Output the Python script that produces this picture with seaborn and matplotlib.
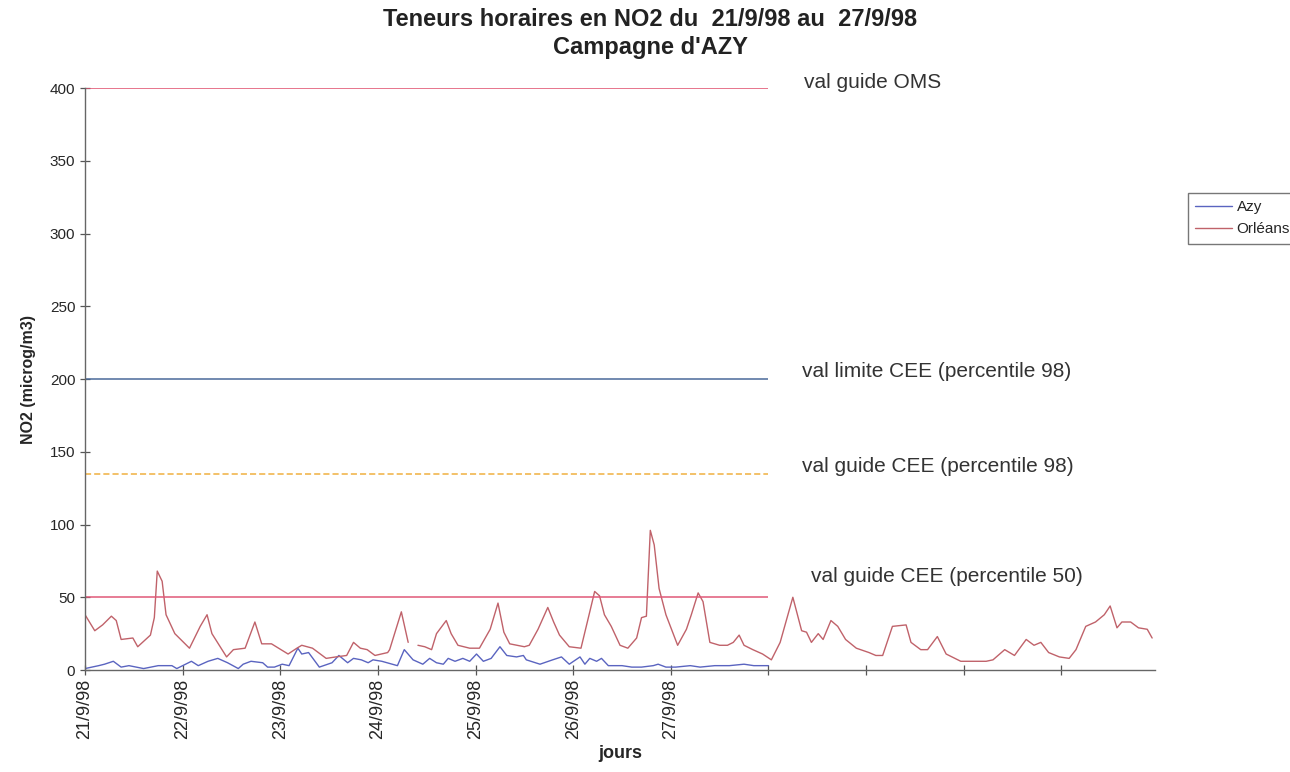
import matplotlib
matplotlib.use("Agg")
import matplotlib.pyplot as plt
import matplotlib.dates as mdates
from matplotlib.ticker import FuncFormatter
import seaborn as sns
import numpy as np
import pandas as pd

# jours depuis le 21/9/98 00h et teneurs NO2 (microg/m3)
orleans_jours = [0.00, 0.10, 0.18, 0.27, 0.32, 0.37, 0.49, 0.54, 0.67, 0.71, 0.74, 0.79, 0.83, 0.92,
                 1.07, 1.18, 1.25, 1.30, 1.45, 1.52, 1.64, 1.74, 1.81, 1.91,
                 2.08, 2.17, 2.22, 2.33, 2.47, 2.57, 2.68, 2.75, 2.82, 2.89, 2.97,
                 3.10, 3.12, 3.24, 3.31, 3.36, 3.41, 3.48, 3.55, 3.60, 3.70, 3.75, 3.82, 3.94,
                 4.04, 4.15, 4.23, 4.29, 4.35, 4.50, 4.55, 4.64, 4.74, 4.80, 4.86, 4.96,
                 5.08, 5.17, 5.22, 5.27, 5.32, 5.39, 5.48, 5.56, 5.65, 5.70, 5.75, 5.79, 5.83, 5.88, 5.95,
                 6.07, 6.16, 6.21, 6.28, 6.33, 6.40, 6.50, 6.58, 6.64, 6.70, 6.75, 6.84, 6.94,
                 7.03, 7.12, 7.25, 7.34, 7.39, 7.44, 7.51, 7.56, 7.64, 7.71, 7.79, 7.90,
                 8.03, 8.10, 8.17, 8.27, 8.41, 8.46, 8.56, 8.63, 8.73, 8.82, 8.97,
                 9.10, 9.23, 9.30, 9.42, 9.52, 9.64, 9.72, 9.79, 9.87, 9.98,
                 10.08, 10.15, 10.25, 10.35, 10.44, 10.50, 10.57, 10.62, 10.71, 10.79, 10.88, 10.93]
orleans_no2 = [38, 27, 31, 37, 34, 21, 22, 16, 24, 36, 68, 61, 38, 25,
               15, 30, 38, 25, 9, 14, 15, 33, 18, 18,
               11, 15, 17, 15, 8, 9, 10, 19, 15, 14, 10,
               12, 14, 40, 19, np.nan, 17, 16, 14, 25, 34, 25, 17, 15,
               15, 28, 46, 26, 18, 16, 17, 28, 43, 33, 24, 16,
               15, 40, 54, 51, 38, 30, 17, 15, 22, 36, 37, 96, 86, 56, 38,
               17, 28, 38, 53, 47, 19, 17, 17, 19, 24, 17, 14, 11,
               7, 19, 50, 27, 26, 19, 25, 21, 34, 30, 21, 15,
               12, 10, 10, 30, 31, 19, 14, 14, 23, 11, 6,
               6, 6, 7, 14, 10, 21, 17, 19, 12, 9,
               8, 14, 30, 33, 38, 44, 29, 33, 33, 29, 28, 22]

azy_jours = [0.00, 0.14, 0.20, 0.29, 0.37, 0.45, 0.60, 0.75, 0.89, 0.94,
             1.09, 1.16, 1.26, 1.36, 1.46, 1.57, 1.62, 1.70, 1.82, 1.87, 1.94,
             2.02, 2.09, 2.18, 2.22, 2.29, 2.40, 2.53, 2.60, 2.69, 2.75, 2.83, 2.90, 2.95,
             3.04, 3.20, 3.27, 3.36, 3.46, 3.53, 3.60, 3.67, 3.72, 3.79, 3.87, 3.94,
             4.01, 4.08, 4.16, 4.25, 4.32, 4.42, 4.49, 4.52, 4.66, 4.79, 4.88, 4.96,
             5.07, 5.12, 5.17, 5.24, 5.29, 5.36, 5.50, 5.60, 5.70, 5.82, 5.87, 5.95,
             6.05, 6.20, 6.30, 6.45, 6.60, 6.75, 6.85, 7.00]
azy_no2 = [1, 3, 4, 6, 2, 3, 1, 3, 3, 1,
           6, 3, 6, 8, 5, 1, 4, 6, 5, 2, 2,
           4, 3, 15, 11, 12, 2, 5, 10, 5, 8, 7, 5, 7,
           6, 3, 14, 7, 4, 8, 5, 4, 8, 6, 8, 6,
           11, 6, 8, 16, 10, 9, 10, 7, 4, 7, 9, 4,
           9, 4, 8, 6, 8, 3, 3, 2, 2, 3, 4, 2,
           2, 3, 2, 3, 3, 4, 3, 3]

# valeurs de référence
seuils = [400, 200, 135, 50]
seuils_txt = ["val guide OMS", "val limite CEE (percentile 98)",
              "val guide CEE (percentile 98)", "val guide CEE (percentile 50)"]
jours_labels = ["21/9/98", "22/9/98", "23/9/98", "24/9/98", "25/9/98", "26/9/98", "27/9/98"]

debut = pd.Timestamp("1998-09-21")


def to_dates(j):
    return debut + pd.to_timedelta(np.asarray(j, dtype=float), unit="D")


# tableau long, un segment par morceau continu (trou dans Orléans)
orl = pd.DataFrame({"date": to_dates(orleans_jours), "no2": orleans_no2, "station": "Orléans"})
orl["seg"] = orl["no2"].isna().cumsum()
orl = orl.dropna()
azy = pd.DataFrame({"date": to_dates(azy_jours), "no2": azy_no2, "station": "Azy", "seg": 0})
df = pd.concat([azy, orl], ignore_index=True)
df["unite"] = df["station"] + df["seg"].astype(str)

sns.set_style("white")
plt.rcParams["font.family"] = ["Liberation Sans", "DejaVu Sans"]

fig = plt.figure(figsize=(12.9, 7.72), dpi=100, facecolor="w")
ax = fig.add_axes([0.0659, 0.1321, 0.8295, 0.7539])

ax = sns.lineplot(data=df, x="date", y="no2", hue="station", units="unite", estimator=None,
                  palette={"Azy": "#5a64c0", "Orléans": "#c0626a"}, linewidth=1.0,
                  sort=False, ax=ax)

# lignes des seuils sur la semaine de campagne
couleurs = ["#e0506e", "#4a6a9a", "#f0b040", "#e05878"]
styles = ["-", "-", (0, (4, 2)), "-"]
fin = to_dates([7.0])[0]
for s, c, ls in zip(seuils, couleurs, styles):
    ax.hlines(s, debut, fin, colors=c, linestyles=ls, linewidth=1.1)

txt_x = to_dates([7.36, 7.34, 7.34, 7.44])
txt_y = [404, 205, 140, 64]
for tx, ty, t in zip(txt_x, txt_y, seuils_txt):
    ax.text(tx, ty, t, fontsize=15, color="#333333", va="center", ha="left")

ax.set_ylim(0, 400)
ax.set_xlim(debut, to_dates([10.96])[0])
ax.set_yticks(np.arange(0, 401, 50))

ax.xaxis.set_major_locator(mdates.DayLocator())
ax.xaxis.set_major_formatter(FuncFormatter(
    lambda v, pos: jours_labels[int(round(v - mdates.date2num(debut)))]
    if 0 <= round(v - mdates.date2num(debut)) < len(jours_labels) else ""))
plt.setp(ax.get_xticklabels(), rotation=90)

ax.tick_params(axis="both", direction="inout", length=7, width=0.9, color="#555555",
               bottom=True, left=True)
ax.tick_params(axis="x", labelsize=13, pad=3)
ax.tick_params(axis="y", labelsize=11)

for side in ["top", "right"]:
    ax.spines[side].set_visible(False)
for side in ["left", "bottom"]:
    ax.spines[side].set_color("#666666")
    ax.spines[side].set_linewidth(1.0)

ax.set_xlabel("jours", fontsize=13, fontweight="bold", labelpad=4)
ax.set_ylabel("NO2 (microg/m3)", fontsize=11.5, fontweight="bold", labelpad=10)

fig.text(0.504, 0.975, "Teneurs horaires en NO2 du  21/9/98 au  27/9/98",
         ha="center", va="center", fontsize=17, fontweight="bold", color="#222222")
fig.text(0.504, 0.938, "Campagne d'AZY",
         ha="center", va="center", fontsize=17, fontweight="bold", color="#222222")

sns.move_legend(ax, loc="upper left", bbox_to_anchor=(1180 / 1290, 1 - 185 / 772),
                bbox_transform=fig.transFigure, title=None, frameon=True,
                fontsize=11, handlelength=2.4, fancybox=False, edgecolor="#555555",
                borderpad=0.5, labelspacing=0.5, handletextpad=0.3)

plt.savefig("out.png", dpi=100)
